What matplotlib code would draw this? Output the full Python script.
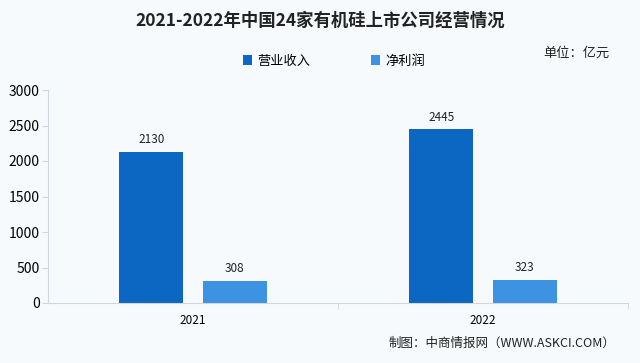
import numpy as np
import matplotlib.pyplot as plt

plt.rcParams['font.family'] = ['Noto Sans CJK SC', 'DejaVu Sans']

# datos
anios = ['2021', '2022']
ingresos = [2130, 2445]
beneficio = [308, 323]
nombres = ['营业收入', '净利润']

fig = plt.figure(figsize=(6.4, 3.63), dpi=100)
fig.patch.set_facecolor('#f7fafd')
ax = fig.add_axes([48/640, 60/363, 580/640, 213/363])
ax.set_facecolor('#f7fafd')

x = np.arange(len(anios))
w = 0.22
b1 = ax.bar(x - 0.144, ingresos, w, color='#0b67c2', label=nombres[0])
b2 = ax.bar(x + 0.144, beneficio, w, color='#3d93e2', label=nombres[1])
for barras in (b1, b2):
    for r in barras:
        ax.text(r.get_x() + r.get_width()/2, r.get_height() + 80, '%d' % r.get_height(),
                ha='center', va='bottom', fontsize=8.5, color='#222222')

ax.set_xlim(-0.5, 1.5)
ax.set_ylim(0, 3000)
ax.set_yticks(range(0, 3001, 500))
ax.set_xticks(x)
ax.set_xticklabels(anios)
ax.set_xticks([0.5, 1.5], minor=True)
ax.tick_params(axis='x', which='major', length=0, labelsize=8.5, pad=8)
ax.tick_params(axis='x', which='minor', length=4, color='#cfd6de')
ax.tick_params(axis='y', length=4, color='#cfd6de', labelsize=10, pad=2)
for s in ['top', 'right']:
    ax.spines[s].set_visible(False)
ax.spines['left'].set_color('#cfd6de')
ax.spines['bottom'].set_color('#cfd6de')

fig.text(0.5, 1 - 21/363, '2021-2022年中国24家有机硅上市公司经营情况', ha='center', va='center',
         fontsize=12.5, fontweight='bold', color='#222222')
fig.text(576/640, 1 - 53/363, '单位：亿元', ha='center', va='center', fontsize=9.5, color='#222222')
fig.legend(handles=[b1, b2], loc='center', bbox_to_anchor=(334/640, 1 - 61/363), ncol=2,
           frameon=False, fontsize=9.5, handlelength=0.7, handleheight=0.7, columnspacing=4.6,
           handletextpad=0.4)
fig.text(615/640, 1 - 343/363, '制图：中商情报网（WWW.ASKCI.COM）', ha='right', va='center',
         fontsize=9, color='#222222')

plt.savefig('out.png', dpi=100, facecolor=fig.get_facecolor())
